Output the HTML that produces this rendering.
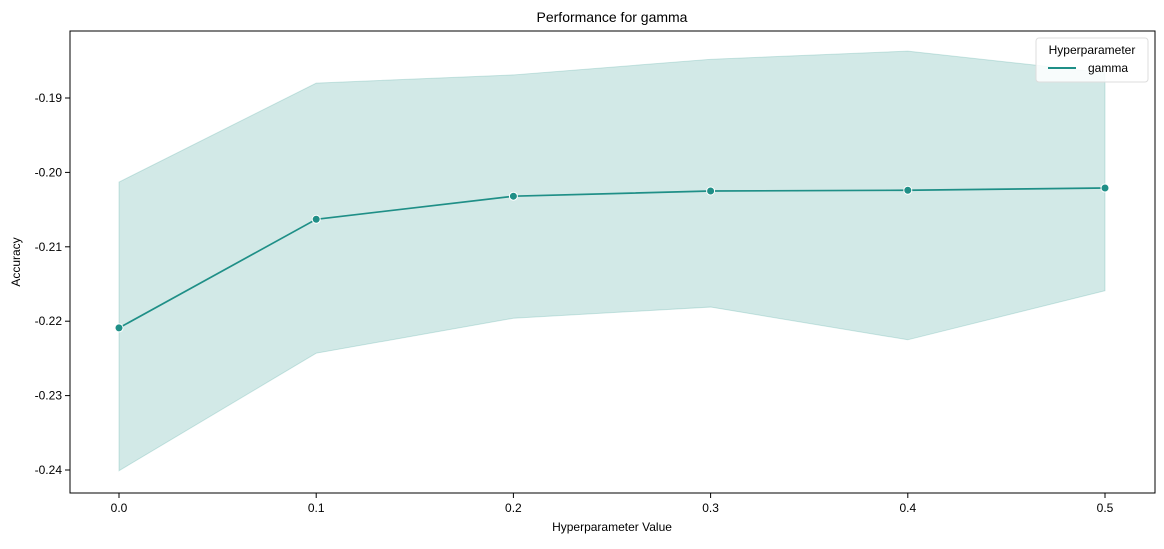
<!DOCTYPE html>
<html><head><meta charset="utf-8"><style>
body{margin:0;background:#fff;}
text{font-family:"Liberation Sans","DejaVu Sans",sans-serif;fill:#000;}
</style></head><body>
<svg width="1164" height="544">
<g id="g"></g>
</svg>
<script>
const xs=[0.0,0.1,0.2,0.3,0.4,0.5];
const meanVals=[-0.2209,-0.2063,-0.2032,-0.2025,-0.2024,-0.2021];
const upperVals=[-0.2013,-0.1880,-0.1869,-0.1848,-0.1837,-0.1866];
const lowerVals=[-0.2401,-0.2243,-0.2196,-0.2181,-0.2225,-0.2159];
const xTicks=[0.0,0.1,0.2,0.3,0.4,0.5];
const yTicks=[-0.24,-0.23,-0.22,-0.21,-0.20,-0.19];
const L=70,R=1155,T=31,B=493;
const X=v=>119+v*1972;
const Y=v=>98+(-0.19-v)*7440;
const g=document.getElementById('g');
const NS='http://www.w3.org/2000/svg';
function mk(t,a,p){const e=document.createElementNS(NS,t);for(const k in a)e.setAttribute(k,a[k]);(p||g).appendChild(e);return e;}
let d='M'+xs.map((x,i)=>X(x)+','+Y(upperVals[i])).join('L');
for(let i=xs.length-1;i>=0;i--)d+='L'+X(xs[i])+','+Y(lowerVals[i]);
let band=mk('path',{d:d+'Z',fill:'#1f8f87','fill-opacity':0.2,stroke:'#1f8f87','stroke-opacity':0.2});


let line=mk('polyline',{points:xs.map((x,i)=>X(x)+','+Y(meanVals[i])).join(' '),fill:'none',stroke:'#1f8f87','stroke-width':1.7});


xs.forEach((x,i)=>{let c=mk('circle',{cx:X(x),cy:Y(meanVals[i]),r:4,fill:'#1f8f87',stroke:'#fff','stroke-width':1});

});
let fr=mk('rect',{x:L,y:T,width:R-L,height:B-T,fill:'none',stroke:'#000','stroke-width':1});


xTicks.forEach(v=>{mk('line',{x1:X(v),x2:X(v),y1:B,y2:B+5,stroke:'#000'});
let t=mk('text',{x:X(v),y:B+19,'text-anchor':'middle','font-size':12});t.textContent=v.toFixed(1);

});
yTicks.forEach(v=>{mk('line',{x1:L-5,x2:L,y1:Y(v),y2:Y(v),stroke:'#000'});
let t=mk('text',{x:L-8,y:Y(v)+4,'text-anchor':'end','font-size':12});t.textContent=v.toFixed(2);

});
let tt=mk('text',{x:612,y:22,'text-anchor':'middle','font-size':14});tt.textContent='Performance for gamma';


let xl=mk('text',{x:612,y:531,'text-anchor':'middle','font-size':12});xl.textContent='Hyperparameter Value';


let yl=mk('text',{x:20,y:262,'text-anchor':'middle','font-size':12,transform:'rotate(-90 20 262)'});yl.textContent='Accuracy';


let lg=mk('g',{});


mk('rect',{x:1036,y:38,width:112,height:44,rx:3,fill:'#fff','fill-opacity':0.85,stroke:'#ddd'},lg);
let lt=mk('text',{x:1092,y:54,'text-anchor':'middle','font-size':12},lg);lt.textContent='Hyperparameter';
mk('line',{x1:1048,x2:1076,y1:68,y2:68,stroke:'#1f8f87','stroke-width':2},lg);
let le=mk('text',{x:1088,y:72,'font-size':12},lg);le.textContent='gamma';


</script>
</body></html>
